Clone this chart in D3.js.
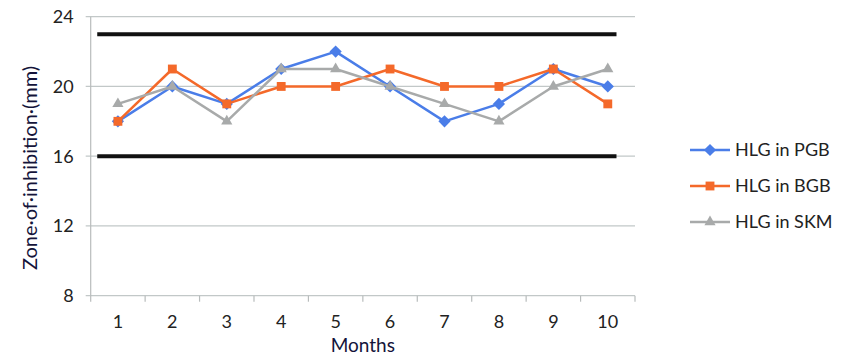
<!DOCTYPE html>
<html>
<head>
<meta charset="utf-8">
<script src="https://d3js.org/d3.v7.min.js"></script>
<style>
  body { margin: 0; background: #fff; }
  text { font-family: Lato, "Open Sans", sans-serif; }
</style>
</head>
<body>
<div id="vis"></div>
<script>
// data
const months = [1, 2, 3, 4, 5, 6, 7, 8, 9, 10];
const pgb = [18, 20, 19, 21, 22, 20, 18, 19, 21, 20];
const bgb = [18, 21, 19, 20, 20, 21, 20, 20, 21, 19];
const skm = [19, 20, 18, 21, 21, 20, 19, 18, 20, 21];
const yTicks = [8, 12, 16, 20, 24];
const limits = [23, 16];          // thick black limit lines
const limitSpan = [0.62, 10.16];  // in month units

const seriesNames = ['HLG in PGB', 'HLG in BGB', 'HLG in SKM'];
const seriesVals = [pgb, bgb, skm];
const colors = ['#4a7de8', '#f4692a', '#a8aaaa'];
const symbols = [d3.symbolDiamond2, d3.symbolSquare2, d3.symbolTriangle2];
const symSize = [95, 100, 90];

const W = 841, H = 363;
const margin = {left: 90.7, right: 206, top: 16.7, bottom: 67.3};
const svg = d3.select('#vis').append('svg').attr('width', W).attr('height', H);

const x = d3.scaleLinear().domain([0.5, 10.5]).range([margin.left, W - margin.right]);
const y = d3.scaleLinear().domain([8, 24]).range([H - margin.bottom, margin.top]);

// gridlines
svg.append('g').selectAll('line').data(yTicks).join('line')
  .attr('x1', margin.left - 5).attr('x2', W - margin.right)
  .attr('y1', d => y(d)).attr('y2', d => y(d))
  .attr('stroke', '#c2c8c8').attr('stroke-width', 1.2);

// y axis line
svg.append('line')
  .attr('x1', margin.left).attr('x2', margin.left)
  .attr('y1', y(24)).attr('y2', y(8))
  .attr('stroke', '#b8bcbc').attr('stroke-width', 1.2);

// y tick labels
svg.append('g').selectAll('text').data(yTicks).join('text')
  .attr('x', margin.left - 17).attr('y', d => y(d))
  .attr('dy', '0.35em').attr('text-anchor', 'end')
  .attr('font-size', 18).attr('fill', '#222')
  .text(d => d);

// x axis ticks at band boundaries
const bounds = d3.range(0.5, 11, 1);
svg.append('g').selectAll('line').data(bounds).join('line')
  .attr('x1', d => x(d)).attr('x2', d => x(d))
  .attr('y1', y(8)).attr('y2', y(8) + 6)
  .attr('stroke', '#b8bcbc').attr('stroke-width', 1.2);

svg.append('g').selectAll('text').data(months).join('text')
  .attr('x', d => x(d)).attr('y', y(8) + 26)
  .attr('dy', '0.35em').attr('text-anchor', 'middle')
  .attr('font-size', 18).attr('fill', '#222')
  .text(d => d);

// axis titles
svg.append('text')
  .attr('x', x(5.5)).attr('y', 345).attr('dy', '0.35em')
  .attr('text-anchor', 'middle').attr('font-size', 19).attr('fill', '#14143a')
  .text('Months');

svg.append('text')
  .attr('transform', `translate(30,168) rotate(-90)`)
  .attr('dy', '0.35em').attr('text-anchor', 'middle')
  .attr('font-size', 20).attr('fill', '#14143a')
  .text('Zone·of·inhibition·(mm)');

// limit lines
svg.append('g').selectAll('line').data(limits).join('line')
  .attr('x1', x(limitSpan[0])).attr('x2', x(limitSpan[1]))
  .attr('y1', d => y(d)).attr('y2', d => y(d))
  .attr('stroke', '#111').attr('stroke-width', 4);

// series
const line = d3.line().x((d, i) => x(months[i])).y(d => y(d));
seriesVals.forEach((vals, s) => {
  const g = svg.append('g');
  g.append('path').datum(vals)
    .attr('d', line).attr('fill', 'none')
    .attr('stroke', colors[s]).attr('stroke-width', 2.5)
    .attr('stroke-linejoin', 'round');
  g.selectAll('path.pt').data(vals).join('path')
    .attr('class', 'pt')
    .attr('transform', (d, i) => `translate(${x(months[i])},${y(d)})`)
    .attr('d', d3.symbol().type(symbols[s]).size(symSize[s]))
    .attr('fill', colors[s]);
});

// legend
const legend = svg.append('g').attr('transform', 'translate(690,150)');
seriesNames.forEach((name, s) => {
  const row = legend.append('g').attr('transform', `translate(0,${s * 36})`);
  row.append('line').attr('x1', 0).attr('x2', 40)
    .attr('stroke', colors[s]).attr('stroke-width', 2.5);
  row.append('path').attr('transform', 'translate(20,0)')
    .attr('d', d3.symbol().type(symbols[s]).size(symSize[s]))
    .attr('fill', colors[s]);
  row.append('text').attr('x', 45).attr('dy', '0.35em')
    .attr('font-size', 18).attr('fill', '#222').text(name);
});
</script>
</body>
</html>
